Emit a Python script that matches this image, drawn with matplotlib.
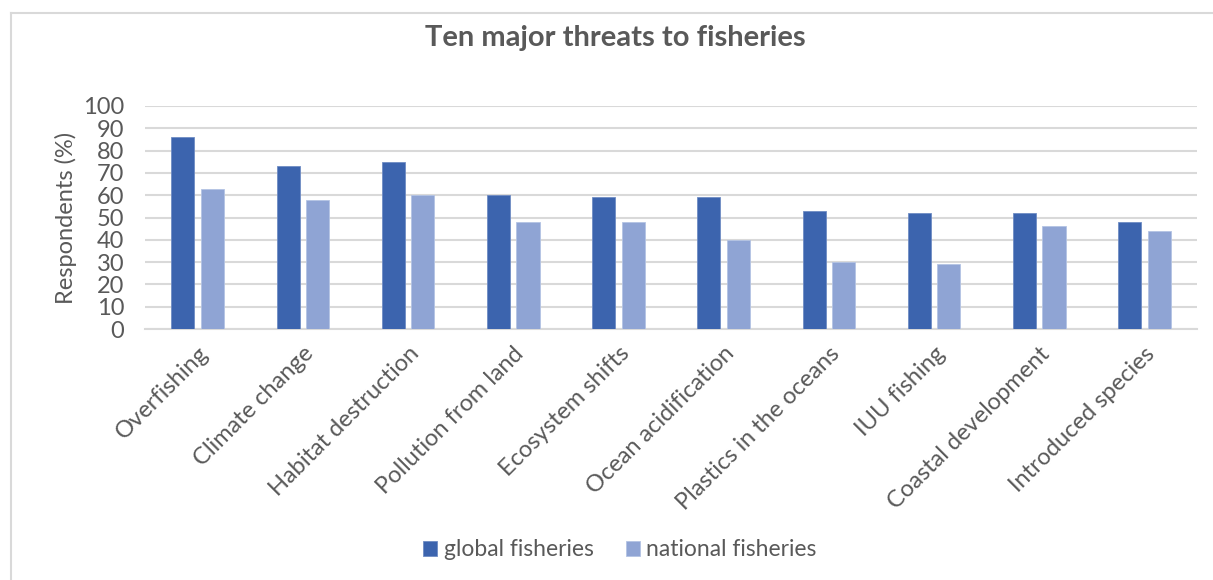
import matplotlib.pyplot as plt
import numpy as np
from matplotlib.lines import Line2D

plt.rcParams['font.family'] = ['Lato', 'DejaVu Sans']

threats = ['Overfishing', 'Climate change', 'Habitat destruction', 'Pollution from land',
           'Ecosystem shifts', 'Ocean acidification', 'Plastics in the oceans', 'IUU fishing',
           'Coastal development', 'Introduced species']
global_fish = [86, 73, 75, 60, 59, 59, 53, 52, 52, 48]
national_fish = [63, 58, 60, 48, 48, 40, 30, 29, 46, 44]

grey = '#595959'
c_glob = '#3C64AE'
c_nat = '#8FA4D4'

fig = plt.figure(figsize=(12.13, 5.8), dpi=100)
W, H = 1213, 580
ax = fig.add_axes([145/W, 1 - 329/H, (1197-145)/W, (329-106)/H])

x = np.arange(len(threats))
w = 0.22
ax.bar(x - 0.14, global_fish, w, color=c_glob, edgecolor='#6f8cc4', linewidth=0.6, label='global fisheries', zorder=3)
ax.bar(x + 0.14, national_fish, w, color=c_nat, edgecolor='#b4c3e4', linewidth=0.6, label='national fisheries', zorder=3)

ax.set_xlim(-0.5, len(threats) - 0.5)
ax.set_ylim(0, 100)
ax.set_yticks(range(0, 101, 10))
ax.yaxis.grid(True, color='#D9D9D9', linewidth=1.5, zorder=0)
for s in ['top', 'right', 'left']:
    ax.spines[s].set_visible(False)
ax.spines['bottom'].set_color('#D9D9D9')
ax.spines['bottom'].set_linewidth(1.5)
ax.tick_params(axis='both', length=0, labelsize=17, colors=grey)
ax.tick_params(axis='y', pad=15)
ax.set_xticks(x)
ax.set_xticklabels(threats, rotation=45, ha='right', rotation_mode='anchor')
ax.tick_params(axis='x', pad=10)
ax.set_ylabel('Respondents (%)', fontsize=17, color=grey, labelpad=4)

fig.text(615/W, 1 - 38/H, 'Ten major threats to fisheries', ha='center', va='center',
         fontsize=21, fontweight='bold', color=grey)

fig.legend(loc='center', bbox_to_anchor=(620/W, 1 - 550/H), ncol=2, frameon=False,
           fontsize=16.5, labelcolor=grey, handlelength=0.6, handleheight=0.6,
           handletextpad=0.3, columnspacing=1.4)

# chart border (left and top visible)
fig.add_artist(Line2D([11/W, 11/W], [0, 1 - 13/H], color='#D9D9D9', linewidth=1.5))
fig.add_artist(Line2D([11/W, 1], [1 - 13/H, 1 - 13/H], color='#D9D9D9', linewidth=1.5))

fig.savefig('out.png', dpi=100, facecolor='white')
